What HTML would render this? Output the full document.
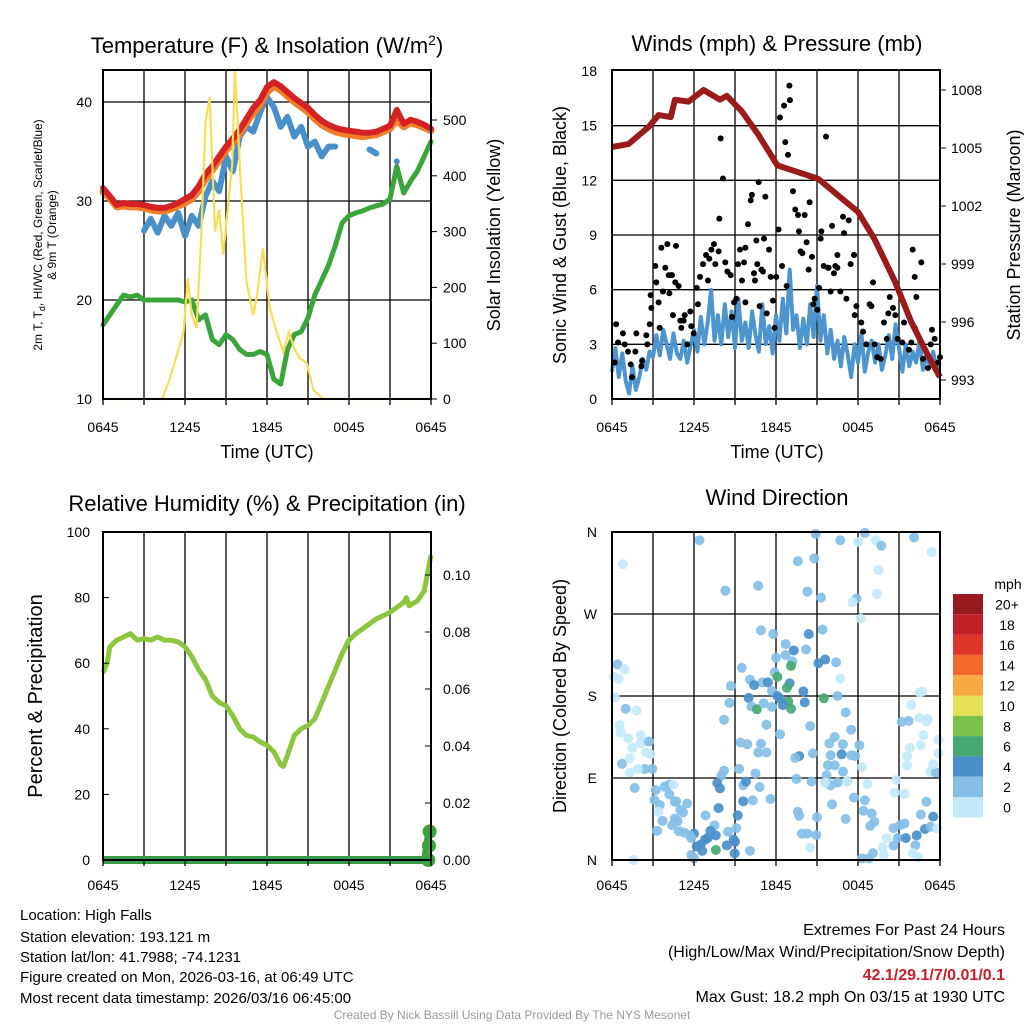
<!DOCTYPE html>
<html><head><meta charset="utf-8"><style>
html,body{margin:0;padding:0;background:#fff}
svg{display:block;font-family:"Liberation Sans",sans-serif}
</style></head><body>
<svg id="c" xmlns="http://www.w3.org/2000/svg" width="1024" height="1024" viewBox="0 0 1024 1024">
<rect width="1024" height="1024" fill="#fff"/>
<g id="g1"></g>
<g id="g2"></g>
<g id="g3"></g>
<g id="g4"></g>
<text x="267" y="53" font-size="22" text-anchor="middle">Temperature (F) &amp; Insolation (W/m<tspan dy="-8" font-size="14">2</tspan><tspan dy="8">)</tspan></text>
<text x="777" y="51" font-size="22" text-anchor="middle">Winds (mph) &amp; Pressure (mb)</text>
<text x="267" y="511" font-size="22" text-anchor="middle">Relative Humidity (%) &amp; Precipitation (in)</text>
<text x="777" y="505" font-size="22" text-anchor="middle">Wind Direction</text>
<text x="267" y="458" font-size="18" text-anchor="middle">Time (UTC)</text>
<text x="777" y="458" font-size="18" text-anchor="middle">Time (UTC)</text>
<text transform="translate(42,235) rotate(-90)" font-size="12" text-anchor="middle">2m T, T<tspan dy="3" font-size="9">d</tspan><tspan dy="-3">, HI/WC (Red, Green, Scarlet/Blue)</tspan></text>
<text transform="translate(56,235) rotate(-90)" font-size="12" text-anchor="middle">&amp; 9m T (Orange)</text>
<text transform="translate(500,235) rotate(-90)" font-size="18" text-anchor="middle">Solar Insolation (Yellow)</text>
<text transform="translate(566,235) rotate(-90)" font-size="18" text-anchor="middle">Sonic Wind &amp; Gust (Blue, Black)</text>
<text transform="translate(1020,235) rotate(-90)" font-size="18" text-anchor="middle">Station Pressure (Maroon)</text>
<text transform="translate(42,696) rotate(-90)" font-size="20" text-anchor="middle">Percent &amp; Precipitation</text>
<text transform="translate(566,696) rotate(-90)" font-size="18" text-anchor="middle">Direction (Colored By Speed)</text>
<g font-size="15">
<text x="20" y="920">Location: High Falls</text>
<text x="20" y="942">Station elevation: 193.121 m</text>
<text x="20" y="962">Station lat/lon: 41.7988; -74.1231</text>
<text x="20" y="982">Figure created on Mon, 2026-03-16, at 06:49 UTC</text>
<text x="20" y="1003">Most recent data timestamp: 2026/03/16 06:45:00</text>
</g>
<g font-size="16" text-anchor="end">
<text x="1005" y="935">Extremes For Past 24 Hours</text>
<text x="1005" y="957">(High/Low/Max Wind/Precipitation/Snow Depth)</text>
<text x="1005" y="980" fill="#c8202a" font-weight="bold">42.1/29.1/7/0.01/0.1</text>
<text x="1005" y="1002">Max Gust: 18.2 mph On 03/15 at 1930 UTC</text>
</g>
<text x="512" y="1019" font-size="12" fill="#999" text-anchor="middle">Created By Nick Bassill Using Data Provided By The NYS Mesonet</text>
</svg>
<script>
// ---------- data ----------
const timeLabels = ["0645","1245","1845","0045","0645"];
const tHalf = []; for (let i=0;i<=48;i++) tHalf.push(i*0.5);
const tempF = [31.3,30.5,29.6,29.8,29.7,29.7,29.6,29.4,29.3,29.3,29.5,29.8,30.2,30.6,31.5,32.7,33.5,34.5,35.5,36.3,37.2,38.3,39.4,40.2,41.5,42,41.6,41,40.4,39.9,39.4,38.7,38.1,37.7,37.4,37.2,37.1,37,36.9,36.9,37,37.3,37.6,39.2,37.8,38.2,38,37.7,37.3];
const temp9m = [30.9,30.3,29.4,29.5,29.4,29.4,29.3,29.1,29,29,29.2,29.5,29.8,30.2,31,32.2,33.1,34.1,35.1,35.9,36.8,37.9,38.9,39.7,41,41.6,41.2,40.6,40,39.5,39,38.3,37.7,37.3,37,36.8,36.7,36.6,36.5,36.6,36.7,37,37.3,38.2,37.5,37.9,37.7,37.4,37.1];
const windChill = [null,null,null,null,null,null,27,28.2,26.8,28.5,27.5,28.8,26.5,28.5,27.5,30.5,32,31,34.5,33,36.5,37.5,37,39,40.5,39.5,37.5,38.5,36.5,37.5,35.5,36,34.5,35.5,35.5,null,null,null,null,35.2,34.8,null,null,34,null,null,null,null,null];
const dewF = [17.5,18.5,19.5,20.5,20.3,20.5,20,20,20,20,20,20,19.8,20,18,18.5,16,15.5,16.5,16,15,14.5,14.5,14.8,14.5,12,11.5,15,16.5,16.8,18.2,20.5,22,23.5,25.5,27.8,28.5,28.8,29,29.3,29.5,29.7,30.2,33.5,30.8,32,33,34.5,36];
const solarT = [0,4.3,4.8,5.3,5.9,6.2,6.5,6.85,7.2,7.5,7.8,8.2,8.5,8.8,9.2,9.45,9.65,9.85,10,10.5,11,11.3,11.7,12.2,12.7,13.2,13.6,14,14.4,14.9,15.4,16.1,24];
const solarW = [0,0,30,70,120,217,150,127,300,496,541,300,340,258,360,420,590,500,420,210,150,190,270,163,120,84,120,90,73,65,16,0,0];
const pressT = [0,1.2,2.7,3.4,4.3,4.6,5.6,6.7,7.9,8.4,9.5,10.7,12.1,13.4,15.1,16.8,18,19.2,20.7,21.9,23.1,24];
const pressMb = [1005.05,1005.2,1006.1,1006.7,1006.6,1007.5,1007.4,1008,1007.5,1007.7,1006.9,1005.7,1004.1,1003.8,1003.4,1002.4,1001.7,1000.3,998.1,996,994.3,993.15];
const windMph = [1.5,2.8,1.2,2.5,1.0,0.3,1.8,0.5,1.2,2.2,1.6,2.6,2.3,3.5,2.4,3.8,3.0,2.2,3.6,2.5,2.2,3.2,2.0,2.9,3.8,2.6,4.5,3.0,4.2,6.0,3.2,4.6,3.0,5.2,3.4,4.8,2.8,5.5,3.2,4.2,2.8,4.8,3.5,2.6,5.2,3.0,4.0,2.5,4.6,3.2,5.5,3.6,7.1,3.8,4.6,2.8,4.4,3.0,5.2,3.4,6.2,3.2,4.6,2.5,3.8,2.2,3.2,1.8,3.4,2.4,1.2,3.0,2.0,3.6,1.5,2.6,3.2,2.0,3.0,1.6,2.4,3.5,2.2,4.1,2.8,1.5,3.0,1.8,2.6,2.0,3.2,1.6,2.4,1.8,2.6,1.6,2.0];
const gustT = [0.3,0.2,0.44,0.8,0.93,1.17,1.37,1.46,1.78,1.71,2.15,2.2,2.51,2.59,2.76,2.83,2.88,3.17,3.24,3.41,3.49,3.61,3.73,3.9,4.05,4.15,4.2,4.34,4.39,4.46,4.63,4.68,4.88,5.0,5.07,5.24,5.32,5.51,5.73,5.8,5.98,6.2,6.29,6.44,6.66,6.88,7.02,7.12,7.27,7.46,7.56,7.8,7.85,7.95,8.12,8.29,8.44,8.68,8.78,8.93,9.1,9.22,9.37,9.51,9.66,9.76,9.76,9.95,10.15,10.24,10.39,10.46,10.56,10.63,10.73,10.8,10.93,11.05,11.12,11.22,11.32,11.49,11.61,11.78,11.9,12.02,12.19,12.29,12.44,12.59,12.68,12.78,12.88,12.98,13.02,13.24,13.41,13.61,13.68,13.8,13.93,14.1,14.24,14.39,14.46,14.63,14.73,14.83,15.02,15.15,15.27,15.32,15.49,15.66,15.8,15.85,16.0,16.1,16.24,16.34,16.49,16.49,16.71,16.9,16.98,17.15,17.32,17.46,17.71,17.71,17.76,17.88,18.24,18.37,18.61,18.85,18.98,19.1,19.22,19.41,19.66,19.9,20.1,20.22,20.32,20.56,20.73,20.9,21.24,21.37,21.73,21.9,22.0,22.15,22.15,22.27,22.63,22.76,23.12,23.32,23.41,23.61,23.85,24.0];
const gustMph = [4.1,2.0,3.1,3.6,3.0,2.6,1.9,1.2,3.6,2.6,1.8,2.1,3.5,3.0,4.1,5.7,5.0,7.3,6.4,5.3,3.9,8.3,5.9,7.2,8.5,6.8,5.8,6.8,6.8,4.6,6.4,8.4,6.2,4.3,3.9,4.3,4.6,3.0,4.8,4.0,3.6,6.1,5.2,6.7,7.4,7.9,6.5,7.7,8.2,8.5,7.4,8.1,9.9,14.3,12.1,7.5,7.0,6.8,4.5,5.3,5.5,7.4,8.2,6.5,7.5,5.3,8.3,9.6,10.9,11.2,6.9,6.5,8.7,7.4,11.9,5.1,7.1,7.0,8.8,11.1,4.7,8.2,6.7,5.4,3.9,6.7,9.3,15.45,7.3,16.1,14.1,6.2,13.4,17.2,16.4,11.4,10.4,10.1,9.2,8.1,8.0,10.1,8.6,7.1,10.8,7.8,5.2,5.5,4.9,6.1,8.8,9.2,7.3,14.4,7.2,7.2,5.9,9.5,6.9,7.3,7.9,7.2,5.9,10,9.1,5.5,9.8,7.4,7.9,7.9,4.6,5.1,4.2,3.7,3.0,5.2,5.1,6.4,3.0,2.3,2.2,4.2,3.3,4.7,5.6,5.0,4.6,3.3,3.1,4.2,2.7,3.1,8.2,3.9,6.7,5.6,7.5,2.2,1.7,3.0,3.8,3.3,2.0,2.3,2.4];
const rhT = [0,0.3,0.5,1,1.5,2,2.5,3,3.5,4,4.5,5,5.5,6,6.5,7,7.5,8,8.5,9,9.5,10,10.5,11,11.5,12,12.5,13,13.2,13.5,14,14.5,15,15.5,16,16.5,17,17.5,18,18.5,19,19.5,20,20.5,21,21.5,22,22.2,22.4,23,23.5,24];
const rhPct = [57,60,65,67,68,69,67,67.5,67,68,67,67,66.5,65,62,58,55,50,48,47,44,40,38,37.5,36,35,33,29,28.5,32,38,40,41,43,48,53,58,63,67,69,70.5,72,73.5,74.5,75.5,77,78.5,80,77.5,79,82,93];
const precipT = [0,23.5,23.8,24];
const precipIn = [0,0,0.01,0.01];
const dirT = [0.8,6.4,8.3,10.7,13.6,14.8,14.9,14.3,15.3,16.7,18,17.9,17.6,18.2,18.5,19.3,19.7,19.5,19.4,22.1,23.4,10.9,11.8,12.7,13.3,14.4,15.4,14.2,12,12.7,13.2,13.1,15.1,15.6,16.4,9.5,11.9,12.1,10.1,11,11.4,10.4,13,12.8,11.7,14,16.7,8.7,10,12.1,12.3,12.9,14.1,15.5,16.5,8.6,10.2,10.6,11.7,12.5,13.1,11.1,17.1,22.7,21.9,8.2,11.3,12.3,14.5,17.5,16.3,15.9,16.9,18.1,9.4,9.9,10.9,10.7,11.3,13.7,13.4,14.7,16,16.8,17.5,17.8,15.8,16.3,16.9,18.3,15.7,9.3,10.5,8.2,8,7.7,7.9,9.6,9.8,10.8,11.6,13.5,14.6,15.7,16,16.5,17.2,18.7,9.6,10.3,7.8,9.2,9.1,8.5,8.9,9,8.4,8.98,10.1,7.6,7.5,6.85,7.6,7.2,7.0,6.8,6.5,6.2,6.6,6,5.8,5.8,6,5.5,5,4.7,5.2,4.6,4.8,4.4,4.9,5.3,5.7,4.2,3.85,3.2,4.5,3.1,3.5,3.4,3.7,3.3,4.2,4.6,1.66,2.4,2.95,1.9,1.3,0.73,1.3,1.5,2.1,2.5,2.8,1.17,0.63,0.56,2.1,2.7,1,1.8,0.2,0.15,0.5,0.4,0.93,1.56,14.3,14.95,14.5,13.9,13.7,13.6,15,16.1,17.1,17.7,18.5,18.4,19,18.9,19.2,18.3,18.8,19.1,19.8,19.9,20.1,20.6,20.6,20.9,21.1,21.4,21.5,20.7,21.4,20.8,22.2,22,22.4,22.3,22.9,23.5,22.6,23,23.3,23.8,22.6,22.8,23.1,22.5,23,21.8,21.6,21.6,21.2,21.7,23.3,23.9,23.7,23.9,23.5,22.5,17.2,15.6];
const dirDeg = [324.6,351,295.6,301,328,331,358,294.5,288,351,349,287,283,265,359,351,345,318,292,354,338,252,248,237,230,248,253,231,222,225,218,213,216,220,217,211,206,201,198,195,195,192,194,189,185.5,185,199,191,178,180,177,174,173,177.5,180,172.5,168.6,165.4,168,170,166,172,162,185,170,154,148.5,138,147,143,135,128,127,126,129,127,127.6,118,118,114,112,117,115,116,115,114,104,104,97,102,93,100,95,98,92.5,84.5,78.6,82,86,80,67,89,86,85,82,85,86.4,83.5,64.4,65.5,57,49,35,31,22.3,20,16,7.3,10,11,38,49,27,32,24,22.3,17,15,10,29,24,5.5,2,62,55,64.5,52.3,45.6,42.6,38,31.6,30,27,82.7,80.5,76.8,82.7,65.8,60.4,53,43,32,72,64,79,99.9,100,100,96,105.6,112,123,128,118,116,133.6,140,148,137,130,166,164,178.5,201,199,214.7,209.3,0,29,27.4,13.6,28.9,48.6,53,47,61,45,68.5,65.6,54,51,37.4,42,1.8,1.8,7.6,13.8,5.4,24,35,15.8,24,38.4,40,24,74,72.6,87.8,16.2,7.8,3,27,34,47.6,50,64,36.5,34.6,126,137,155,156,152,123,104,114,151.7,152.7,97,132,96,117,105,184,86,85];
const dirSpeed = [1,3,3,3,3,3,3,3,3,3,1,3,1,1,3,1,3,1,1,3,1,3,3,3,5,5,3,3,3,3,3,7,5,5,3,3,3,7,3,3,5,5,5,7,3,5,1,3,5,5,5,7,5,7,3,3,3,7,3,5,7,3,3,1,1,3,3,3,3,3,3,3,3,3,3,3,3,3,3,5,3,3,3,5,3,3,3,3,3,1,3,3,3,3,3,5,5,3,5,3,3,3,3,3,3,3,3,1,5,3,5,5,3,3,5,5,5,5,3,7,3,3,5,5,5,5,5,5,5,5,3,3,3,3,3,3,3,3,3,3,3,3,3,3,3,3,1,3,3,1,3,3,3,3,3,3,3,1,1,3,1,1,1,1,1,1,1,1,1,3,3,1,1,1,1,3,1,1,3,3,1,3,3,3,3,3,3,3,3,3,3,3,3,3,3,3,1,1,1,3,3,3,3,3,5,1,1,1,3,1,1,5,5,5,3,3,3,1,1,1,1,1,1,1,1,1,3,3,1,1,3,1,1,1,1,1,1,3,3];
const speedLabels = ["0","2","4","6","8","10","12","14","16","18","20+"];
const speedColors = ["#c3e8fa","#85bfe8","#4a8fca","#46a873","#7bc24d","#e6e155","#f8a944","#f2692b","#e0352b","#c21f27","#971a1e"];

// ---------- helpers ----------
const NS="http://www.w3.org/2000/svg";
function mk(tag, attrs, parent){const e=document.createElementNS(NS,tag);for(const k in attrs)e.setAttribute(k,attrs[k]);parent.appendChild(e);return e;}
function axisX(x0,x1){return t=>x0+(x1-x0)*t/24;}
function lin(d0,d1,p0,p1){return v=>p0+(v-d0)*(p1-p0)/(d1-d0);}
function pathFrom(ts,vs,sx,sy){let d="",pen=false;for(let i=0;i<ts.length;i++){const v=vs[i];if(v===null||v===undefined){pen=false;continue;}const x=sx(ts[i]).toFixed(1),y=sy(v).toFixed(1);if(!pen){d+="M"+x+" "+y+"l0 0";pen=true;}else d+="L"+x+" "+y;}return d;}
function frame(g,x0,y0,x1,y1,hLines){
  for(let k=1;k<8;k++){const x=x0+(x1-x0)*k/8;const l=mk("line",{x1:x,y1:y0,x2:x,y2:y1,stroke:"#000","stroke-width":1.3},g);}
  hLines.forEach(y=>{const l=mk("line",{x1:x0,y1:y,x2:x1,y2:y,stroke:"#000","stroke-width":1.3},g);});
}
function border(g,x0,y0,x1,y1){const r=mk("rect",{x:x0,y:y0,width:x1-x0,height:y1-y0,fill:"none",stroke:"#000","stroke-width":2},g);}
function xticks(g,x0,x1,y1,ly){const sx=axisX(x0,x1);timeLabels.forEach((lab,i)=>{const t=mk("text",{x:sx(i*6),y:ly,"font-size":14,"text-anchor":"middle"},g);t.textContent=lab;});
  for(let k=0;k<=8;k++){const x=x0+(x1-x0)*k/8;mk("line",{x1:x,y1:y1,x2:x,y2:y1+6,stroke:"#000","stroke-width":1.3},g);}}
function ytick(g,x,y,lab,anchor,side){const t=mk("text",{x:x,y:y+5,"font-size":14,"text-anchor":anchor},g);t.textContent=lab;}

// ---------- panel 1 ----------
(function(){
 const g=document.getElementById('g1');const X0=103,X1=431,Y0=70,Y1=399;
 const sx=axisX(X0,X1), sy=lin(10,40,399,102), ss=lin(0,500,399,120);
 frame(g,X0,Y0,X1,Y1,[sy(20),sy(30),sy(40)]);
 [[windChill,"#4a90c8",6,'wind-chill-line'],[temp9m,"#f47d2a",7,'temp-9m-line'],[tempF,"#d42224",6,'temp-2m-line'],[dewF,"#3aa53a",5,'dewpoint-line']].forEach(s=>{
  const p=mk("path",{d:pathFrom(tHalf,s[0],sx,sy),fill:"none",stroke:s[1],"stroke-width":s[2],"stroke-linejoin":"round","stroke-linecap":"round"},g);
  });
 const p=mk("path",{d:pathFrom(solarT,solarW,sx,v=>Math.max(ss(v),70)),fill:"none",stroke:"#f7dd55","stroke-width":2.2},g);
 
 border(g,X0,Y0,X1,Y1);xticks(g,X0,X1,Y1,432);
 [10,20,30,40].forEach(v=>ytick(g,92,sy(v),String(v),"end","left"));
 [0,100,200,300,400,500].forEach(v=>{ytick(g,443,ss(v),String(v),"start","right");mk("line",{x1:X1,y1:ss(v),x2:X1+6,y2:ss(v),stroke:"#000"},g);});
})();

// ---------- panel 2 ----------
(function(){
 const g=document.getElementById('g2');const X0=612,X1=940,Y0=70,Y1=399;
 const sx=axisX(X0,X1), sy=lin(0,18,399,71), sp=lin(993,1008,380,90);
 frame(g,X0,Y0,X1,Y1,[3,6,9,12,15].map(sy));
 const wt=[];for(let i=0;i<windMph.length;i++)wt.push(i*0.25);
 const w=mk("path",{d:pathFrom(wt,windMph,sx,sy),fill:"none",stroke:"#4e95cf","stroke-width":4,"stroke-linejoin":"round"},g);
 
 gustT.forEach((t,i)=>{const c=mk("circle",{cx:sx(t),cy:sy(gustMph[i]),r:3,fill:"#000"},g);});
 const p=mk("path",{d:pathFrom(pressT,pressMb,sx,sp),fill:"none",stroke:"#9b1b1b","stroke-width":6,"stroke-linejoin":"round"},g);
 
 border(g,X0,Y0,X1,Y1);xticks(g,X0,X1,Y1,432);
 [0,3,6,9,12,15,18].forEach(v=>ytick(g,597,sy(v),String(v),"end","left"));
 [993,996,999,1002,1005,1008].forEach(v=>{ytick(g,951,sp(v),String(v),"start","right");mk("line",{x1:X1,y1:sp(v),x2:X1+6,y2:sp(v),stroke:"#000"},g);});
})();

// ---------- panel 3 ----------
(function(){
 const g=document.getElementById('g3');const X0=103,X1=431,Y0=532,Y1=860;
 const sx=axisX(X0,X1), sy=lin(0,100,860,532), sr=lin(0,0.1,860,575);
 frame(g,X0,Y0,X1,Y1,[]);
 const r=mk("path",{d:pathFrom(rhT,rhPct,sx,sy),fill:"none",stroke:"#8cc63f","stroke-width":5,"stroke-linejoin":"round"},g);
 
 const pp=mk("path",{d:pathFrom(precipT,precipIn,sx,sr),fill:"none",stroke:"#3a9a45","stroke-width":6},g);
 
 const zl=mk("line",{x1:X0,y1:sr(0),x2:X1,y2:sr(0),stroke:"#3a9a45","stroke-width":8},g);
 [[23.9,0.01],[23.85,0.005],[23.8,0]].forEach(q=>{const c=mk("circle",{cx:sx(q[0]),cy:sr(q[1]),r:7,fill:"#3aa53a"},g);});
 border(g,X0,Y0,X1,Y1);xticks(g,X0,X1,Y1,890);
 [0,20,40,60,80,100].forEach(v=>{ytick(g,90,sy(v),String(v),"end","left");mk("line",{x1:X0,y1:sy(v),x2:X0+6,y2:sy(v),stroke:"#000"},g);});
 [0,0.02,0.04,0.06,0.08,0.10].forEach(v=>{ytick(g,443,sr(v),v.toFixed(2),"start","right");mk("line",{x1:X1-6,y1:sr(v),x2:X1,y2:sr(v),stroke:"#000"},g);});
})();

// ---------- panel 4 ----------
(function(){
 const g=document.getElementById('g4');const X0=612,X1=940,Y0=532,Y1=860;
 const sx=axisX(X0,X1), sy=lin(0,360,860,532);
 frame(g,X0,Y0,X1,Y1,[90,180,270].map(sy));
 dirT.forEach((t,i)=>{const cls=Math.min(10,Math.floor(dirSpeed[i]/2));const c=mk("circle",{cx:sx(t),cy:sy(dirDeg[i]),r:5,fill:speedColors[cls],opacity:0.92},g);});
 border(g,X0,Y0,X1,Y1);xticks(g,X0,X1,Y1,890);
 ["N","E","S","W","N"].forEach((lab,i)=>ytick(g,597,sy(i*90),lab,"end","left"));
 const lg=mk("g",{},g);
 const ut=mk("text",{x:1008,y:589,"font-size":14,"text-anchor":"middle"},lg);ut.textContent="mph";
 for(let k=10;k>=0;k--){const y=594+(10-k)*20.3;
  const b=mk("rect",{x:953,y:y,width:30,height:20.3,fill:speedColors[k]},lg);
  const t=mk("text",{x:1007,y:y+15.5,"font-size":14,"text-anchor":"middle"},lg);t.textContent=speedLabels[k];}
})();
</script>
</body></html>
